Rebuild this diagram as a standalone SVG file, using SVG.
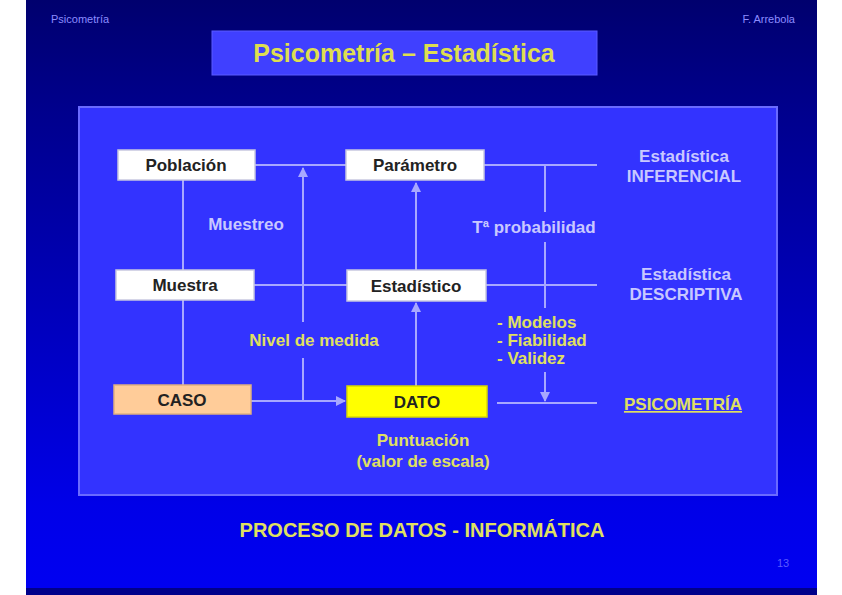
<svg xmlns="http://www.w3.org/2000/svg" width="842" height="595" viewBox="0 0 842 595">
<defs>
<linearGradient id="bg" x1="0" y1="0" x2="0" y2="1">
<stop offset="0" stop-color="#00006e"/>
<stop offset="0.18" stop-color="#00008c"/>
<stop offset="0.85" stop-color="#0000e8"/>
<stop offset="1" stop-color="#0000f2"/>
</linearGradient>
<marker id="ah" viewBox="0 0 10 10" refX="9" refY="5" markerWidth="5" markerHeight="5" orient="auto">
<path d="M0,0 L10,5 L0,10 z" fill="#a8a8ff"/>
</marker>
<style>
.node rect{stroke:#c8c8e0;stroke-width:1.5}
.nt{font-family:"Liberation Sans",Arial,sans-serif;font-weight:bold;font-size:17px;fill:#222;text-anchor:middle}
.lav{font-family:"Liberation Sans",Arial,sans-serif;font-weight:bold;font-size:17px;fill:#c8c8ff;text-anchor:middle}
.yel{font-family:"Liberation Sans",Arial,sans-serif;font-weight:bold;font-size:17px;fill:#e0e060;text-anchor:middle}
.st{text-anchor:start}
.big{font-size:20px}
.con line{stroke:#a8a8ff;stroke-width:2}
</style>
</defs>
<rect x="0" y="0" width="842" height="595" fill="#ffffff"/>
<rect x="26" y="0" width="791" height="595" fill="url(#bg)"/>
<rect x="26" y="588" width="791" height="7" fill="#00008a"/>
<text x="51" y="23" font-family="Liberation Sans, Arial, sans-serif" font-size="11" fill="#8c8cff">Psicometría</text>
<text x="795" y="23" font-family="Liberation Sans, Arial, sans-serif" font-size="11" fill="#8c8cff" text-anchor="end">F. Arrebola</text>
<g id="title">
<rect x="212" y="31" width="385" height="44" fill="#4040ff" stroke="#5a5aff" stroke-width="1"/>
<text x="404" y="62" font-family="Liberation Sans, Arial, sans-serif" font-weight="bold" font-size="25" fill="#dede50" text-anchor="middle">Psicometría – Estadística</text>
</g>
<rect x="79" y="107" width="698" height="388" fill="#3333ff" stroke="#6a6aff" stroke-width="2"/>
<g id="connectors" class="con">
<line x1="183" y1="180" x2="183" y2="270"/>
<line x1="183" y1="300" x2="183" y2="385"/>
<line x1="255" y1="165" x2="346" y2="165"/>
<line x1="254" y1="285" x2="347" y2="285"/>
<line x1="303" y1="322" x2="303" y2="168" marker-end="url(#ah)"/>
<line x1="303" y1="358" x2="303" y2="401"/>
<line x1="251" y1="401" x2="345" y2="401" marker-end="url(#ah)"/>
<line x1="416" y1="386" x2="416" y2="303" marker-end="url(#ah)"/>
<line x1="416" y1="270" x2="416" y2="183" marker-end="url(#ah)"/>
<line x1="484" y1="165" x2="597" y2="165"/>
<line x1="486" y1="285" x2="597" y2="285"/>
<line x1="497" y1="403" x2="597" y2="403"/>
<line x1="545" y1="165" x2="545" y2="212"/>
<line x1="545" y1="242" x2="545" y2="308"/>
<line x1="545" y1="372" x2="545" y2="401" marker-end="url(#ah)"/>
</g>
<g id="poblacion" class="node">
<rect x="118" y="150" width="137" height="30" fill="#ffffff"/>
<text class="nt" x="186" y="171">Población</text>
</g>
<g id="parametro" class="node">
<rect x="346" y="150" width="138" height="30" fill="#ffffff"/>
<text class="nt" x="415" y="171">Parámetro</text>
</g>
<g id="muestra" class="node">
<rect x="116" y="270" width="138" height="30" fill="#ffffff"/>
<text class="nt" x="185" y="291">Muestra</text>
</g>
<g id="estadistico" class="node">
<rect x="347" y="270" width="139" height="31" fill="#ffffff"/>
<text class="nt" x="416" y="292">Estadístico</text>
</g>
<g id="caso" class="node">
<rect x="114" y="385" width="137" height="29" fill="#ffcc99" style="stroke:#e0b080"/>
<text class="nt" x="182" y="406">CASO</text>
</g>
<g id="dato" class="node">
<rect x="347" y="386" width="140" height="31" fill="#ffff00" style="stroke:#d8d800"/>
<text class="nt" x="417" y="408">DATO</text>
</g>
<g id="labels">
<text class="lav" x="246" y="230">Muestreo</text>
<text class="lav" x="534" y="233">Tª probabilidad</text>
<text class="lav" x="684" y="162">Estadística</text>
<text class="lav" x="684" y="182">INFERENCIAL</text>
<text class="lav" x="686" y="280">Estadística</text>
<text class="lav" x="686" y="300">DESCRIPTIVA</text>
<text class="yel" x="314" y="346">Nivel de medida</text>
<text class="yel st" x="497" y="328">- Modelos</text>
<text class="yel st" x="497" y="346">- Fiabilidad</text>
<text class="yel st" x="497" y="364">- Validez</text>
<text class="yel" x="683" y="410" text-decoration="underline">PSICOMETRÍA</text>
<text class="yel" x="423" y="446">Puntuación</text>
<text class="yel" x="423" y="467">(valor de escala)</text>
<text class="yel big" x="422" y="537">PROCESO DE DATOS - INFORMÁTICA</text>
</g>
<text x="783" y="567" font-family="Liberation Sans, Arial, sans-serif" font-size="11" fill="#5a5aff" text-anchor="middle">13</text>
</svg>
